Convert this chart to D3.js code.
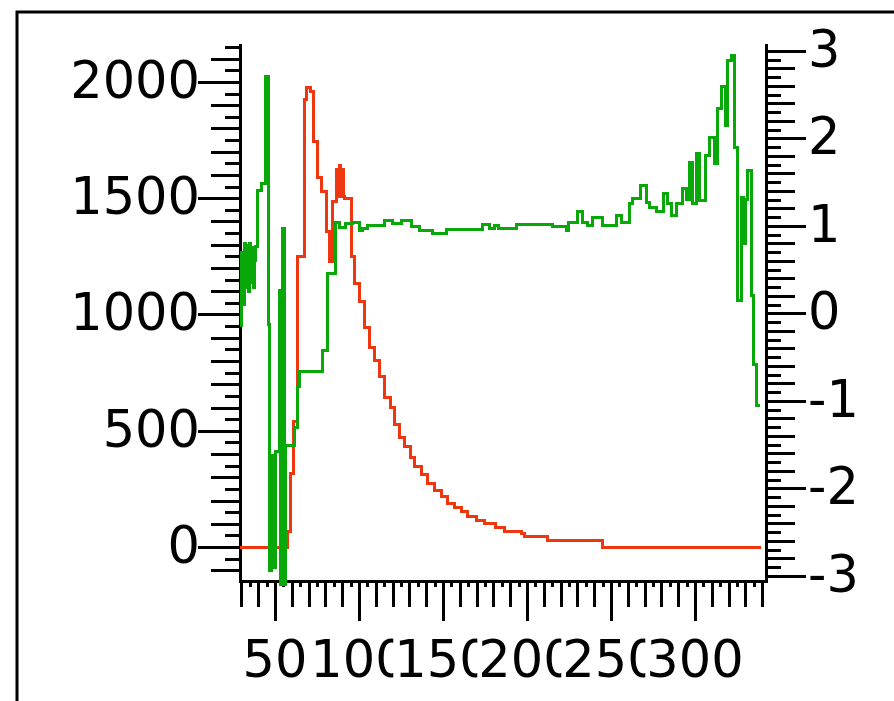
<!DOCTYPE html>
<html>
<head>
<meta charset="utf-8">
<script src="https://cdn.jsdelivr.net/npm/d3@7"></script>
<style>
  html, body { margin: 0; padding: 0; background: #fff; }
  svg { display: block; }
  text { font-family: "DejaVu Sans", sans-serif; fill: #000; }
</style>
</head>
<body>
<svg id="chart" width="894" height="701"></svg>
<script>
// Red trace: counts, read on the left axis (step-after points)
const redX = [29.2, 57.7, 59.5, 61.3, 63.5, 67.4, 69.0, 71.4, 72.8, 75.4, 78.0, 80.4, 82.7, 84.3, 86.9, 87.8, 88.4, 89.2, 89.8, 90.6, 91.5, 95.5, 97.6, 100.6, 103.6, 106.5, 109.5, 112.5, 115.5, 118.5, 121.4, 124.4, 127.4, 130.4, 133.3, 137.3, 141.1, 145.2, 149.2, 153.0, 157.1, 161.1, 164.9, 170.0, 175.0, 181.0, 186.9, 196.8, 198.8, 212.5, 245.2, 339.5];
const redY = [0, 65, 318, 538, 1249, 1923, 1974, 1958, 1743, 1587, 1528, 1356, 1227, 1485, 1622, 1507, 1640, 1507, 1622, 1507, 1500, 1249, 1135, 1055, 942, 860, 800, 732, 641, 598, 525, 469, 431, 383, 345, 310, 275, 245, 216, 189, 168, 151, 130, 116, 103, 82, 66, 60, 44, 28, 0, 0];

// Green trace: read on the right axis (step-after points)
const greenX = [29.2, 30.0, 30.8, 31.6, 32.4, 33.2, 34.0, 34.8, 35.6, 36.4, 37.2, 38.0, 38.7, 39.7, 41.7, 44.6, 46.0, 47.0, 48.2, 49.4, 50.6, 52.6, 53.6, 54.6, 55.4, 56.5, 61.5, 63.5, 64.5, 78.4, 81.4, 86.3, 88.7, 92.0, 96.4, 100.6, 102.4, 104.8, 115.5, 120.2, 125.6, 131.5, 136.3, 144.0, 152.4, 173.8, 178.0, 180.5, 183.0, 194.0, 215.5, 223.8, 224.5, 229.8, 233.3, 236.3, 239.3, 245.2, 253.6, 256.5, 261.3, 263.1, 267.3, 271.4, 273.2, 277.4, 281.0, 283.9, 286.3, 289.3, 292.3, 295.2, 297.0, 298.8, 301.2, 303.0, 306.0, 308.9, 311.9, 313.7, 316.1, 317.9, 319.6, 322.0, 323.8, 325.6, 328.0, 329.0, 330.0, 331.5, 333.9, 334.6, 336.9, 338.7];
const greenY = [-0.14, 0.7, 0.1, 0.8, 0.3, 0.78, 0.25, 0.8, 0.35, 0.75, 0.3, 0.6, 0.76, 1.41, 1.48, 2.71, -0.13, -2.94, -1.62, -2.9, -1.58, 0.26, -3.1, 0.97, -3.1, -1.51, -1.3, -0.84, -0.67, -0.42, 0.46, 1.04, 0.98, 1.03, 1.04, 0.95, 0.97, 1.0, 1.06, 1.03, 1.06, 0.99, 0.95, 0.91, 0.96, 1.02, 0.97, 1.0, 0.97, 1.02, 0.99, 0.95, 1.04, 1.16, 1.04, 1.0, 1.1, 1.0, 1.12, 1.04, 1.26, 1.31, 1.46, 1.27, 1.21, 1.16, 1.37, 1.26, 1.12, 1.26, 1.43, 1.3, 1.73, 1.26, 1.83, 1.29, 1.8, 2.01, 1.71, 2.34, 2.59, 2.15, 2.89, 2.95, 1.9, 0.15, 1.33, 0.8, 1.3, 1.63, 0.21, -0.59, -1.05, -1.05];

// Labelled tick values
const xTickLabels = [50, 100, 150, 200, 250, 300];
const leftTickLabels = [0, 500, 1000, 1500, 2000];
const rightTickLabels = [-3, -2, -1, 0, 1, 2, 3];

const W = 894, H = 701;
const svg = d3.select("#chart");

// Plot geometry
const plotL = 240, plotR = 766, plotT = 44, plotB = 581;

const x = d3.scaleLinear().domain([29.2, 342.3]).range([plotL, plotR]);
const yL = d3.scaleLinear().domain([-146, 2163]).range([plotB, plotT]);
const yR = d3.scaleLinear().domain([-3.06, 3.08]).range([plotB, plotT]);

// Window frame
svg.append("path")
  .attr("d", `M17,${H} V12 H${W}`)
  .attr("fill", "none").attr("stroke", "#000").attr("stroke-width", 3);

// Tick rows (no labels; labels are drawn separately)
function ticks(axisFn, scale, values, size, tx, ty) {
  const g = svg.append("g").attr("transform", `translate(${tx},${ty})`)
    .call(axisFn(scale).tickValues(values).tickSize(size).tickSizeOuter(0).tickFormat(""));
  g.select(".domain").remove();
  g.selectAll(".tick line")
    .attr("stroke", "#000").attr("stroke-width", 3).attr("shape-rendering", "crispEdges");
}

const inDom = (s) => (v) => v >= Math.min(...s.domain()) && v <= Math.max(...s.domain());

// left axis ticks: 50 / 100 / 500
ticks(d3.axisLeft, yL, d3.range(-100, 2151, 50).filter(inDom(yL)), 15, plotL, 0);
ticks(d3.axisLeft, yL, d3.range(-100, 2101, 100).filter(inDom(yL)), 29, plotL, 0);
ticks(d3.axisLeft, yL, leftTickLabels, 42, plotL, 0);

// right axis ticks: 0.1 / 0.2 / 1
ticks(d3.axisRight, yR, d3.range(-30, 31).map(d => d / 10).filter(inDom(yR)), 15, plotR, 0);
ticks(d3.axisRight, yR, d3.range(-15, 16).map(d => d / 5).filter(inDom(yR)), 29, plotR, 0);
ticks(d3.axisRight, yR, rightTickLabels, 40, plotR, 0);

// bottom axis ticks: 5 / 10 / 50
ticks(d3.axisBottom, x, d3.range(30, 341, 5), 6, 0, plotB);
ticks(d3.axisBottom, x, d3.range(30, 341, 10), 26, 0, plotB);
ticks(d3.axisBottom, x, xTickLabels, 40, 0, plotB);

// axis lines
svg.append("path")
  .attr("d", `M${plotL},${plotT} V${plotB} H${plotR} V${plotT}`)
  .attr("fill", "none").attr("stroke", "#000").attr("stroke-width", 3)
  .attr("shape-rendering", "crispEdges");

// traces
const redLine = d3.line().x((d, i) => x(redX[i])).y(d => yL(d)).curve(d3.curveStepAfter);
const greenLine = d3.line().x((d, i) => x(greenX[i])).y(d => yR(d)).curve(d3.curveStepAfter);

svg.append("path").datum(redY).attr("d", redLine)
  .attr("fill", "none").attr("stroke", "#f0360f").attr("stroke-width", 3)
  .attr("stroke-linejoin", "miter").attr("shape-rendering", "crispEdges");
svg.append("path").datum(greenY).attr("d", greenLine)
  .attr("fill", "none").attr("stroke", "#08a808").attr("stroke-width", 3)
  .attr("stroke-linejoin", "miter").attr("shape-rendering", "crispEdges");

// labels: each x label erases the area behind it, so neighbours overlap
const FS = 51;
function label(txt, px, py, anchor, boxed) {
  const g = svg.append("g").attr("transform", `translate(${px},${py})`);
  const r = boxed ? g.append("rect").attr("fill", "#fff") : null;
  const t = g.append("text").attr("text-anchor", anchor).attr("font-size", FS).text(txt);
  if (r) {
    const b = t.node().getBBox();
    r.attr("x", b.x - 1).attr("y", b.y).attr("width", b.width + 2).attr("height", b.height);
  }
}

leftTickLabels.forEach(v => label(String(v), 200, yL(v) + 16, "end", false));
rightTickLabels.forEach(v => label(String(v), plotR + 42, yR(v) + 16, "start", false));
xTickLabels.forEach(v => label(String(v), x(v), 677, "middle", true));
</script>
</body>
</html>
